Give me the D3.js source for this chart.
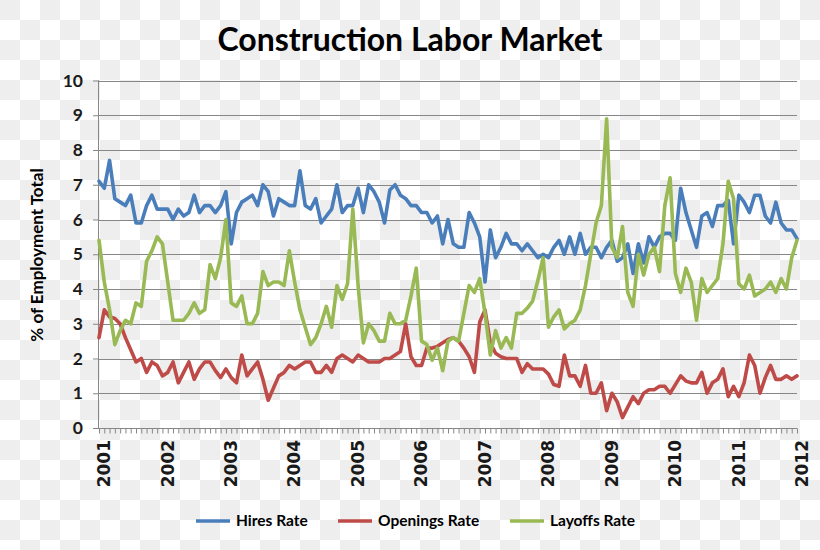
<!DOCTYPE html>
<html>
<head>
<meta charset="utf-8">
<script src="https://cdn.jsdelivr.net/npm/d3@7"></script>
<style>
  html, body { margin: 0; padding: 0; background: #fff; }
  svg { display: block; }
</style>
</head>
<body>
<svg id="chart" width="820" height="550"></svg>
<script>
// ---- Data (monthly, Jan 2001 .. Jan 2012) ----
const yearLabels = ["2001","2002","2003","2004","2005","2006","2007","2008","2009","2010","2011","2012"];
const yTicks = [0,1,2,3,4,5,6,7,8,9,10];
const seriesNames = ["Hires Rate", "Openings Rate", "Layoffs Rate"];

const hiresRate = [
  7.1,6.9,7.7,6.6,6.5,6.4,6.7,5.9,5.9,6.4,6.7,6.3,
  6.3,6.3,6.0,6.3,6.1,6.2,6.7,6.2,6.4,6.4,6.2,6.4,
  6.8,5.3,6.2,6.5,6.6,6.7,6.4,7.0,6.8,6.1,6.6,6.5,
  6.4,6.4,7.4,6.4,6.3,6.6,5.9,6.1,6.3,7.0,6.2,6.4,
  6.4,6.9,6.2,7.0,6.8,6.5,5.9,6.85,7.0,6.7,6.6,6.4,
  6.4,6.2,6.2,5.9,6.1,5.3,6.0,5.3,5.2,5.2,6.2,5.9,
  5.5,4.2,5.7,4.9,5.2,5.6,5.3,5.3,5.1,5.3,5.1,4.9,
  5.0,4.9,5.2,5.4,5.0,5.5,5.0,5.6,5.0,5.2,5.2,4.9,
  5.2,5.4,4.8,4.9,5.3,4.45,5.3,4.75,5.5,5.2,5.5,5.6,
  5.6,5.4,6.9,6.2,5.7,5.2,6.1,6.2,5.8,6.4,6.4,6.55,
  5.3,6.7,6.5,6.2,6.7,6.7,6.1,5.9,6.5,5.9,5.7,5.7,
  5.45
];
const openingsRate = [
  2.6,3.4,3.2,3.15,3.0,2.6,2.25,1.9,2.0,1.6,1.9,1.8,
  1.5,1.6,1.9,1.3,1.6,1.9,1.4,1.7,1.9,1.9,1.65,1.45,
  1.7,1.45,1.3,2.1,1.5,1.7,1.9,1.4,0.8,1.15,1.5,1.6,
  1.8,1.7,1.8,1.9,1.9,1.6,1.6,1.8,1.6,2.0,2.1,2.0,
  1.9,2.1,2.0,1.9,1.9,1.9,2.0,2.0,2.1,2.2,3.0,2.05,
  1.8,1.8,2.3,2.3,2.35,2.45,2.55,2.6,2.5,2.3,2.05,1.6,
  3.05,3.4,2.45,2.15,2.05,2.0,2.0,2.0,1.6,1.85,1.7,1.7,
  1.7,1.55,1.25,1.2,2.1,1.5,1.5,1.2,1.8,1.0,1.0,1.3,
  0.5,1.0,0.75,0.3,0.6,0.9,0.7,1.0,1.1,1.1,1.2,1.2,
  1.0,1.25,1.5,1.35,1.3,1.3,1.6,1.0,1.3,1.4,1.7,0.9,
  1.2,0.9,1.3,2.1,1.8,1.0,1.45,1.8,1.4,1.4,1.5,1.4,
  1.5
];
const layoffsRate = [
  5.4,4.2,3.4,2.4,2.8,3.1,3.0,3.6,3.5,4.8,5.1,5.5,
  5.3,4.2,3.1,3.1,3.1,3.3,3.6,3.3,3.4,4.7,4.3,4.9,
  6.0,3.6,3.5,3.8,3.0,3.0,3.3,4.5,4.1,4.2,4.2,4.1,
  5.1,4.2,3.4,2.9,2.4,2.6,3.0,3.5,2.9,4.1,3.7,4.15,
  6.3,4.1,2.45,3.0,2.8,2.5,2.5,3.3,3.0,3.0,3.1,3.8,
  4.6,2.5,2.4,1.95,2.3,1.65,2.5,2.6,2.5,3.3,4.1,3.9,
  4.3,3.3,2.1,2.8,2.3,2.6,2.3,3.3,3.3,3.45,3.65,4.25,
  4.9,2.9,3.2,3.4,2.85,3.0,3.1,3.4,4.1,5.0,5.9,6.4,
  8.9,5.2,4.9,5.8,3.9,3.5,5.0,4.4,5.0,5.2,4.5,6.4,
  7.2,4.45,3.9,4.6,4.2,3.1,4.3,3.9,4.1,4.3,5.3,7.1,
  6.6,4.15,4.0,4.4,3.8,3.9,4.0,4.2,3.9,4.3,4.0,4.9,
  5.4
];
const seriesData = [hiresRate, openingsRate, layoffsRate];
const seriesColors = ["#4a7ebb", "#be4b48", "#98b954"];

// ---- Layout ----
const W = 820, H = 550;
const svg = d3.select("#chart");
const nMonths = hiresRate.length - 1;

// checkerboard background (as in the reference image)
const defs = svg.append("defs");
const pat = defs.append("pattern").attr("id", "checker")
  .attr("patternUnits", "userSpaceOnUse").attr("width", 40).attr("height", 40);
pat.append("rect").attr("width", 40).attr("height", 40).attr("fill", "#ffffff");
pat.append("rect").attr("x", 0).attr("y", 0).attr("width", 20).attr("height", 20).attr("fill", "#eeeeee");
pat.append("rect").attr("x", 20).attr("y", 20).attr("width", 20).attr("height", 20).attr("fill", "#eeeeee");
svg.append("rect").attr("width", W).attr("height", H).attr("fill", "url(#checker)");

const x = d3.scaleLinear().domain([0, nMonths]).range([99, 797]);
const y = d3.scaleLinear().domain([0, 10]).range([428, 80.5]);

const gridColor = "#878787";

// gridlines
svg.append("g").selectAll("line").data(yTicks.filter(d => d > 0)).join("line")
  .attr("x1", x(0)).attr("x2", x(nMonths))
  .attr("y1", d => Math.round(y(d)) + 0.5).attr("y2", d => Math.round(y(d)) + 0.5)
  .attr("stroke", gridColor).attr("stroke-width", 1);

// y axis
const yAxis = d3.axisLeft(y).tickValues(yTicks).tickSize(6).tickPadding(10).tickFormat(d3.format("d"));
const gy = svg.append("g").attr("transform", `translate(${x(0)},0)`).call(yAxis);
gy.select(".domain").attr("stroke", gridColor).attr("d", `M-0.5,${y(10)}V${y(0)}`);
gy.selectAll(".tick line").attr("stroke", gridColor);
gy.selectAll(".tick text").attr("font-family", "Lato, 'Open Sans', sans-serif")
  .attr("font-weight", "bold").attr("font-size", 17.5).attr("fill", "#1a1a1a");

// x axis with monthly ticks
const monthTicks = d3.range(0, nMonths + 1);
const xAxis = d3.axisBottom(x).tickValues(monthTicks).tickSize(5).tickFormat("");
const gx = svg.append("g").attr("transform", `translate(0,${Math.round(y(0)) + 0.5})`).call(xAxis);
gx.select(".domain").attr("stroke", gridColor).attr("d", `M${x(0) - 6},0H${x(nMonths)}`);
gx.selectAll(".tick line").attr("stroke", gridColor);

// year labels, rotated
svg.append("g").selectAll("text").data(yearLabels).join("text")
  .attr("transform", (d, i) => `translate(${x(i * 12) + 5},440) rotate(-90)`)
  .attr("text-anchor", "end").attr("dy", "0.36em")
  .attr("font-family", "'DejaVu Sans', Verdana, sans-serif").attr("font-weight", "bold")
  .attr("font-size", 17).attr("fill", "#1a1a1a")
  .text(d => d);

// lines
const line = d3.line().x((d, i) => x(i)).y(d => y(d)).curve(d3.curveLinear);
svg.append("g").selectAll("path").data(seriesData).join("path")
  .attr("d", d => line(d))
  .attr("fill", "none")
  .attr("stroke", (d, i) => seriesColors[i])
  .attr("stroke-width", 3.6)
  .attr("stroke-linejoin", "round").attr("stroke-linecap", "round");

// title
svg.append("text").attr("x", 410).attr("y", 51).attr("text-anchor", "middle")
  .attr("font-family", "Lato, 'Open Sans', sans-serif").attr("font-weight", "bold")
  .attr("font-size", 32).attr("fill", "#000")
  .text("Construction Labor Market");

// y axis title
svg.append("text").attr("transform", "translate(43,255) rotate(-90)")
  .attr("text-anchor", "middle")
  .attr("font-family", "Lato, 'Open Sans', sans-serif").attr("font-weight", "bold")
  .attr("font-size", 17).attr("fill", "#000")
  .text("% of Employment Total");

// legend
const legendX = [196, 338, 510];
const lg = svg.append("g").selectAll("g").data(seriesNames).join("g")
  .attr("transform", (d, i) => `translate(${legendX[i]},521)`);
lg.append("line").attr("x1", 0).attr("x2", 34).attr("y1", 0).attr("y2", 0)
  .attr("stroke", (d, i) => seriesColors[i]).attr("stroke-width", 3.6);
lg.append("text").attr("x", 40).attr("dy", "0.35em")
  .attr("font-family", "Lato, 'Open Sans', sans-serif").attr("font-weight", "bold")
  .attr("font-size", 15.5).attr("fill", "#000")
  .text(d => d);
</script>
</body>
</html>
